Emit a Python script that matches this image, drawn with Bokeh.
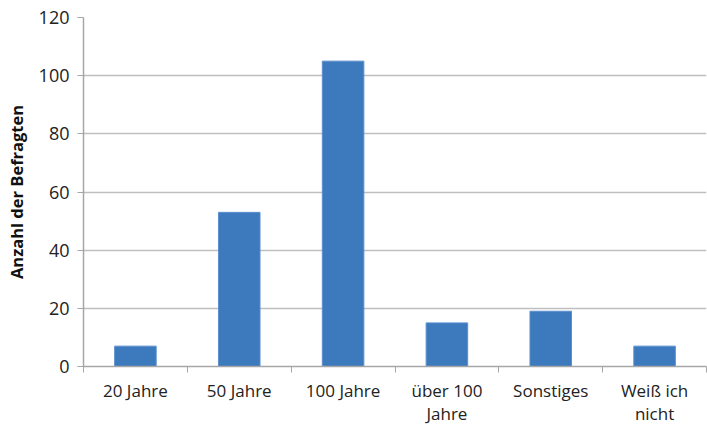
from bokeh.plotting import figure
from bokeh.models import FixedTicker, Range1d
from bokeh.embed import file_html
from bokeh.resources import INLINE

categories = ["20 Jahre", "50 Jahre", "100 Jahre", "über 100\nJahre", "Sonstiges", "Weiß ich\nnicht"]
counts = [7, 53, 105, 15, 19, 7]
y_ticks = [0, 20, 40, 60, 80, 100, 120]

positions = [i + 0.5 for i in range(len(categories))]

p = figure(width=707, height=427, output_backend="svg", toolbar_location=None,
           x_range=Range1d(0, len(categories)), y_range=Range1d(0, 120),
           min_border_left=83, min_border_right=1, min_border_top=17, min_border_bottom=56)
p.outline_line_color = None

p.vbar(x=positions, top=counts, width=0.4, fill_color="#3d79bd", line_color="#5b8fcf", line_width=1)

font = "Open Sans"
# x axis
p.xaxis.ticker = FixedTicker(ticks=positions, minor_ticks=list(range(len(categories) + 1)))
p.xaxis.major_label_overrides = {pos: lab for pos, lab in zip(positions, categories)}
p.xaxis.major_tick_line_color = None
p.xaxis.minor_tick_out = 6
p.xaxis.minor_tick_in = 0
p.xaxis.minor_tick_line_color = "#a6a6a6"
p.xaxis.axis_line_color = "#a6a6a6"
p.xaxis.axis_line_width = 1.5
p.xaxis.major_label_text_font = font
p.xaxis.major_label_text_font_size = "17px"
p.xaxis.major_label_text_color = "#222222"
p.xaxis.major_label_text_line_height = 1.0
p.xaxis.major_label_standoff = 6
p.xgrid.grid_line_color = None

# y axis
p.yaxis.ticker = FixedTicker(ticks=y_ticks)
p.yaxis.minor_tick_line_color = None
p.yaxis.major_tick_out = 6
p.yaxis.major_tick_in = 0
p.yaxis.major_tick_line_color = "#a6a6a6"
p.yaxis.axis_line_color = "#a6a6a6"
p.yaxis.axis_line_width = 1.5
p.yaxis.major_label_text_font = font
p.yaxis.major_label_text_font_size = "18px"
p.yaxis.major_label_text_color = "#222222"
p.yaxis.major_label_standoff = 8
p.yaxis.axis_label = "Anzahl der Befragten"
p.yaxis.axis_label_text_font = font
p.yaxis.axis_label_text_font_style = "bold"
p.yaxis.axis_label_text_font_size = "16.5px"
p.yaxis.axis_label_text_color = "#111111"
p.yaxis.axis_label_standoff = 8
p.ygrid.grid_line_color = "#bfbfbf"
p.ygrid.grid_line_width = 1.5

open("out.html", "w").write(file_html(p, INLINE))
